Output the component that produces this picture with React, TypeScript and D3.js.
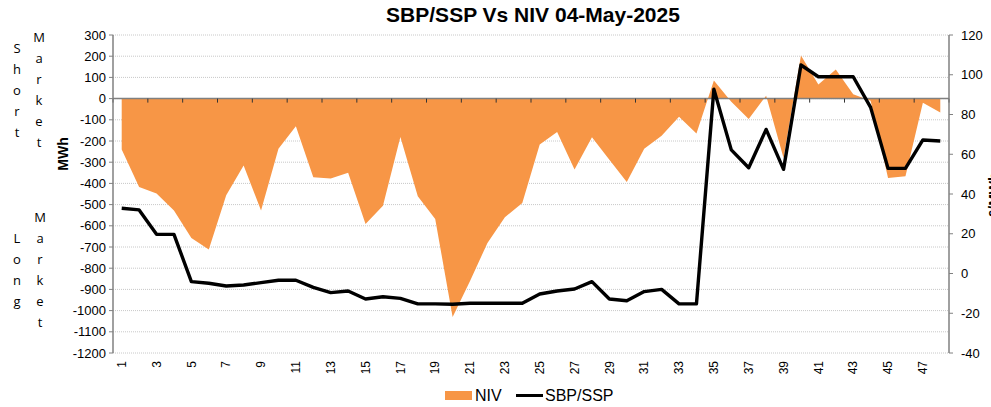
import React from 'react';
import * as d3 from 'd3';

// settlement periods 1..48
const periods: number[] = [
  1, 2, 3, 4, 5, 6, 7, 8, 9, 10, 11, 12, 13, 14, 15, 16, 17, 18, 19, 20, 21, 22, 23, 24,
  25, 26, 27, 28, 29, 30, 31, 32, 33, 34, 35, 36, 37, 38, 39, 40, 41, 42, 43, 44, 45, 46, 47, 48,
];

// NIV in MWh (left axis)
const niv: number[] = [
  -240, -417, -448, -528, -657, -712, -456, -316, -528, -236, -130, -371,
  -377, -350, -591, -505, -181, -461, -568, -1030, -860, -681, -560, -492,
  -217, -157, -335, -182, -288, -393, -236, -175, -86, -165, 85, -15,
  -96, 14, -280, 203, 66, 137, 20, -10, -374, -366, -20, -65,
];

// SBP/SSP in £/MWh (right axis)
const sbp: number[] = [
  32.8, 32, 19.7, 19.7, -4.1, -4.9, -6.3, -5.8, -4.6, -3.4, -3.4, -7,
  -9.6, -8.8, -12.8, -11.7, -12.5, -15.3, -15.3, -15.5, -15, -15, -15, -15,
  -10.3, -8.8, -7.8, -4.1, -12.8, -13.7, -9.1, -8, -15.3, -15.3, 92.7, 62.2,
  53.2, 72.5, 52.4, 104.9, 99, 99, 99, 83.6, 52.9, 52.9, 67.2, 66.7,
];

const leftTicks: number[] = d3.range(-1200, 301, 100);
const rightTicks: number[] = d3.range(-40, 121, 20);

const W = 991;
const H = 407;
const plot = { left: 113, right: 949, top: 35, bottom: 353 };

const orange = '#F79646';
const axisGray = '#808080';
const font = 'Liberation Sans, Arial, sans-serif';
const noteFont = 'Open Sans, Noto Sans, sans-serif';

const App: React.FC = () => {
  const x = d3.scaleBand<number>().domain(periods).range([plot.left, plot.right]);
  const xc = (p: number) => (x(p) as number) + x.bandwidth() / 2;
  const yL = d3.scaleLinear().domain([-1200, 300]).range([plot.bottom, plot.top]);
  const yR = d3.scaleLinear().domain([-40, 120]).range([plot.bottom, plot.top]);

  const area = d3
    .area<number>()
    .x((_, i) => xc(periods[i]))
    .y0(yL(0))
    .y1(d => yL(d));

  const line = d3
    .line<number>()
    .x((_, i) => xc(periods[i]))
    .y(d => yR(d));

  // category tick marks on the zero line, every 2 periods
  const catTicks = periods.filter((_, i) => i % 2 === 0).map(p => x(p) as number);
  catTicks.push(plot.right);

  const shortCol1 = ['S', 'h', 'o', 'r', 't'];
  const marketCol = ['M', 'a', 'r', 'k', 'e', 't'];
  const longCol = ['L', 'o', 'n', 'g'];

  return (
    <svg width={W} height={H} style={{ position: 'absolute', left: 0, top: 0 }} fontFamily={font}>
      <rect width={W} height={H} fill="#fff" />

      {/* title */}
      <text x={(plot.left + plot.right) / 2 + 2} y={22} textAnchor="middle" fontSize={21} fontWeight="bold">
        SBP/SSP Vs NIV 04-May-2025
      </text>

      {/* grid */}
      {leftTicks.map(t => (
        <line
          key={'g' + t}
          x1={plot.left}
          x2={plot.right}
          y1={yL(t)}
          y2={yL(t)}
          stroke="#c8c8c8"
          strokeWidth={1}
          strokeDasharray="1,1"
        />
      ))}

      {/* NIV area */}
      <path d={area(niv) as string} fill={orange} />

      {/* zero axis */}
      <line x1={plot.left} x2={plot.right} y1={yL(0)} y2={yL(0)} stroke={axisGray} strokeWidth={1.5} />
      {catTicks.map((cx, i) => (
        <line key={'ct' + i} x1={cx} x2={cx} y1={yL(0)} y2={yL(0) + 4} stroke="#333" strokeWidth={1} />
      ))}

      {/* left axis */}
      <line x1={plot.left} x2={plot.left} y1={plot.top} y2={plot.bottom} stroke={axisGray} strokeWidth={1.5} />
      {leftTicks.map(t => (
        <g key={'l' + t}>
          <line x1={plot.left - 4} x2={plot.left} y1={yL(t)} y2={yL(t)} stroke={axisGray} />
          <text x={plot.left - 7} y={yL(t)} dy="0.35em" textAnchor="end" fontSize={13}>
            {t}
          </text>
        </g>
      ))}

      {/* right axis */}
      <line x1={plot.right} x2={plot.right} y1={plot.top} y2={plot.bottom} stroke={axisGray} strokeWidth={1.5} />
      {rightTicks.map(t => (
        <g key={'r' + t}>
          <line x1={plot.right} x2={plot.right + 4} y1={yR(t)} y2={yR(t)} stroke={axisGray} />
          <text x={plot.right + 12} y={yR(t)} dy="0.35em" textAnchor="start" fontSize={13}>
            {t}
          </text>
        </g>
      ))}

      {/* SBP/SSP line */}
      <path d={line(sbp) as string} fill="none" stroke="#000" strokeWidth={3.4} strokeLinejoin="round" />

      {/* x labels */}
      {periods
        .filter(p => p % 2 === 1)
        .map(p => (
          <text
            key={'x' + p}
            transform={`translate(${xc(p)},${plot.bottom + 8}) rotate(-90)`}
            dy="0.35em"
            textAnchor="end"
            fontSize={12}
          >
            {p}
          </text>
        ))}

      {/* axis titles */}
      <text transform={`translate(68,154) rotate(-90)`} textAnchor="middle" fontSize={14} fontWeight="bold">
        MWh
      </text>
      <text transform={`translate(999,195) rotate(-90)`} textAnchor="middle" fontSize={14} fontWeight="bold">
        £/MWh
      </text>

      {/* short / long market notes */}
      <g fontFamily={noteFont} fontSize={13} textAnchor="middle">
        {shortCol1.map((c, i) => (
          <text key={'s' + i} x={17} y={53 + i * 21}>
            {c}
          </text>
        ))}
        {marketCol.map((c, i) => (
          <text key={'m' + i} x={39} y={42 + i * 21}>
            {c}
          </text>
        ))}
        {longCol.map((c, i) => (
          <text key={'lg' + i} x={17} y={243 + i * 21}>
            {c}
          </text>
        ))}
        {marketCol.map((c, i) => (
          <text key={'lm' + i} x={40} y={222 + i * 21}>
            {c}
          </text>
        ))}
      </g>

      {/* legend */}
      <rect x={445} y={391} width={27} height={9} fill={orange} />
      <text x={475} y={401} fontSize={16}>
        NIV
      </text>
      <line x1={516} x2={543} y1={395.5} y2={395.5} stroke="#000" strokeWidth={3} />
      <text x={545} y={401} fontSize={16}>
        SBP/SSP
      </text>
    </svg>
  );
};

export default App;
